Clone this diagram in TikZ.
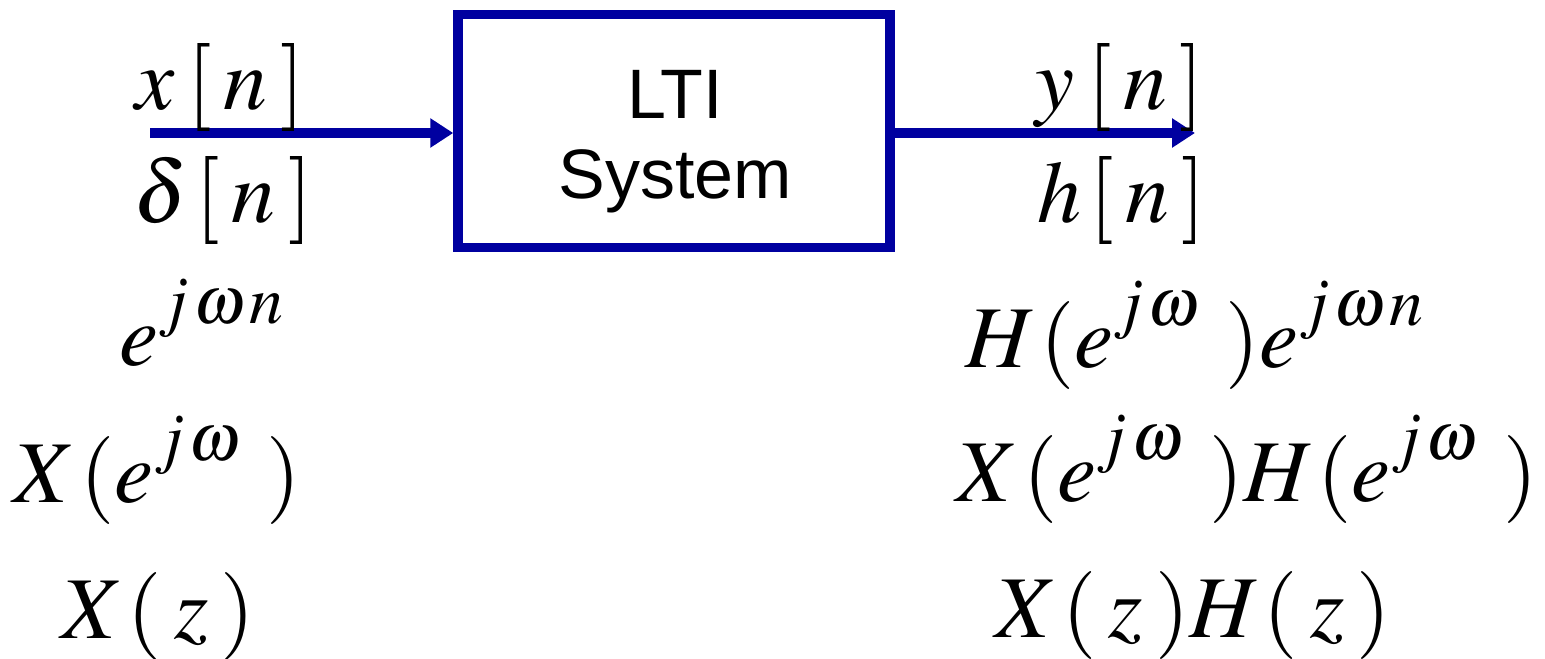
\documentclass[tikz,border=0pt]{standalone}
\usepackage{mathptmx}
\usepackage{fontspec}
\newfontfamily\arialfont{Liberation Sans}
\usetikzlibrary{arrows.meta}
\definecolor{ltiblue}{RGB}{0,0,160}
\DeclareMathSizes{44}{44}{34}{26}
\newcommand\eqgap{\mkern2.5mu}
\newcommand\hsup[1]{^{\raisebox{5pt}{$\scriptstyle #1$}}}
\begin{document}
\begin{tikzpicture}[x=0.5pt,y=-0.5pt,
  eq/.style={inner sep=0pt, outer sep=0pt, anchor=base, font=\fontsize{44}{53}\selectfont},
  sysbox/.style={draw=ltiblue, line width=4.75pt, minimum width=216pt, minimum height=116.5pt, inner sep=0pt},
  sigline/.style={draw=ltiblue, line width=5pt, -{Triangle[length=11.5pt,width=14pt]}},
  boxtext/.style={font=\arialfont\fontsize{35}{40}\selectfont, align=center, inner sep=0pt}]
\useasboundingbox (0,0) rectangle (1545,658);
\node[sysbox] (sys) at (674,131) {};
\node[boxtext] (lbl) at (675,142) {LTI\\System};
\coordinate (inS) at (150,133);
\coordinate (outE) at (1195,133);
\draw[sigline] (inS) -- (inS -| sys.west);
\draw[sigline] (sys.east |- outE) -- (outE);
\node[eq] (xn) at (220,110) {$x\eqgap[\eqgap n\eqgap]$};
\node[eq] (dn) at (223,222) {$\delta\mkern1.5mu[\eqgap n\eqgap]$};
\node[eq] (ejwn) at (202,365) {$e\hsup{j\mkern1mu\omega\mkern1mu n}$};
\node[eq] (Xejw) at (157,502) {$X\mkern1mu(e\hsup{j\mkern1mu\omega}\mkern5mu)$};
\node[eq] (Xz) at (158,638) {$X\mkern1mu(\eqgap z\eqgap)$};
\node[eq] (yn) at (1120,110) {$y\eqgap[\eqgap n\eqgap]$};
\node[eq] (hn) at (1122,222) {$h\mkern1.5mu[\eqgap n\eqgap]$};
\node[eq] (Hout) at (1195,367) {$H\mkern1mu(e\hsup{j\mkern1mu\omega}\mkern5mu)e\hsup{j\mkern1mu\omega\mkern1mu n}$};
\node[eq] (XH) at (1247,501) {$X\mkern1mu(e\hsup{j\mkern1mu\omega}\mkern5mu)H\mkern1mu(e\hsup{j\mkern1mu\omega}\mkern5mu)$};
\node[eq] (XzHz) at (1193,637) {$X\mkern1mu(\eqgap z\eqgap)H\mkern1mu(\eqgap z\eqgap)$};
\end{tikzpicture}
\end{document}
